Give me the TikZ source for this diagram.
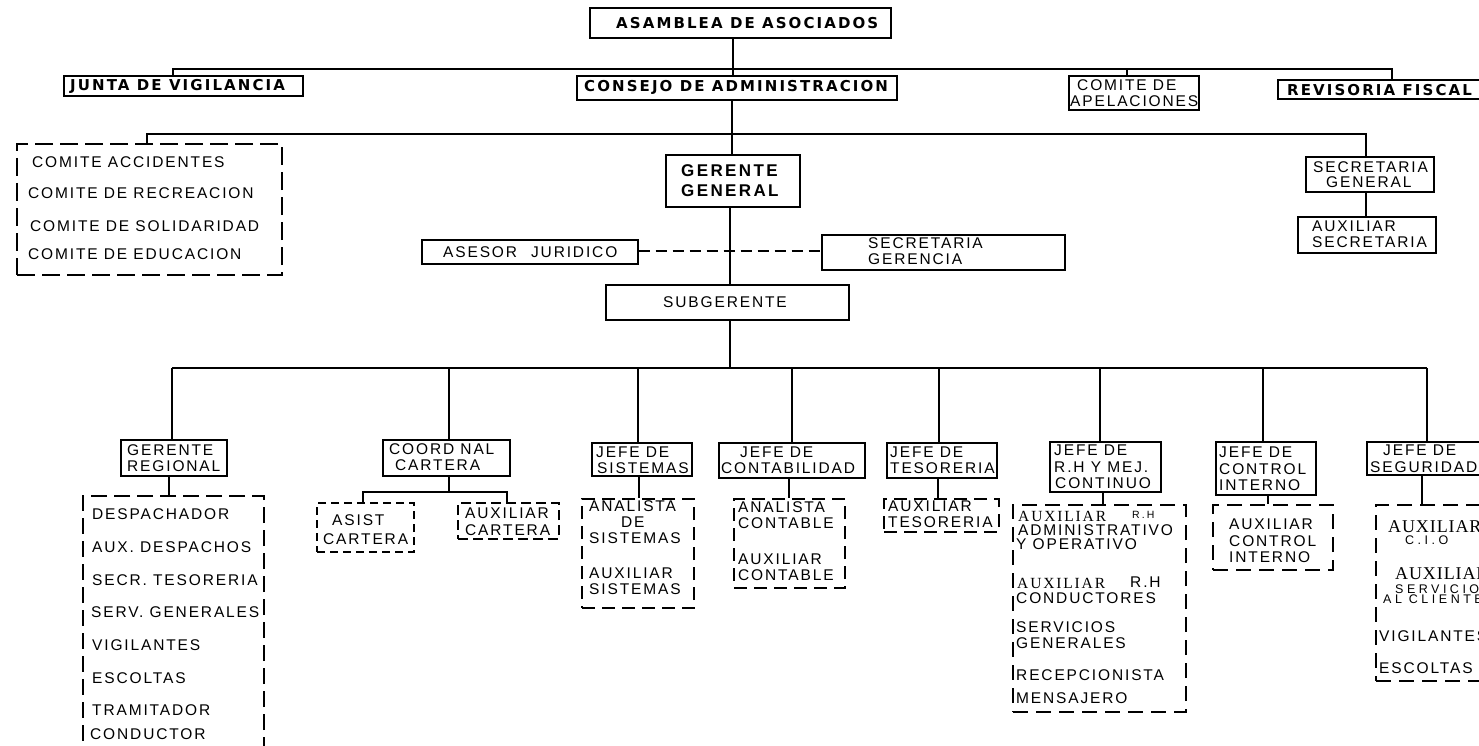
\documentclass[tikz,border=0pt]{standalone}
\usepackage{fontspec}
\usetikzlibrary{fit}
\setmainfont{Liberation Sans}
\newfontfamily\famR{Liberation Sans}[LetterSpace=12]
\newfontfamily\famB{DejaVu Sans}[LetterSpace=14]
\newfontfamily\famG{Liberation Sans}[LetterSpace=14]
\newfontfamily\famSa{Liberation Serif}[LetterSpace=12]
\newfontfamily\famSb{Liberation Serif}[LetterSpace=5]
\newfontfamily\famT{Liberation Sans}[LetterSpace=20]
\newfontfamily\famU{Liberation Sans}[LetterSpace=28]
\newcommand\myR{\famR\fontsize{15.5}{16}\selectfont}
\newcommand\myB{\famB\bfseries\fontsize{15}{16}\selectfont}
\newcommand\myG{\famG\bfseries\fontsize{17}{20}\selectfont}
\newcommand\mySa{\famSa\fontsize{15.5}{16}\selectfont}
\newcommand\mySb{\famSb\fontsize{18}{20}\selectfont}
\newcommand\myT{\famT\fontsize{10.5}{12}\selectfont}
\newcommand\myU{\famU\fontsize{12.5}{13}\selectfont}
\begin{document}
\begin{tikzpicture}[x=1pt,y=-1pt,
 bx/.style={draw, line width=1.2pt, inner sep=0pt},
 dbx/.style={bx, dash pattern=on 13pt off 7pt},
 ln/.style={line width=1.2pt},
 tt/.style={inner sep=0pt, anchor=west, font=\myR},
 tb/.style={tt, font=\myB},
 tg/.style={tt, font=\myG},
 tsa/.style={tt, font=\mySa},
 tsb/.style={tt, font=\mySb},
 tm/.style={tt, font=\myT},
 tu/.style={tt, font=\myU}]
\useasboundingbox[fill=white] (0,0) rectangle (1479,746);

% ---------- top level ----------
\node[bx, fit={(590,8)(891,38)}] (asam) {};
\node[tb] (asamT) at (616,23) {ASAMBLEA DE ASOCIADOS};
\node[bx, fit={(64,76)(303,96)}] (junta) {};
\node[tb] (juntaT) at (70,86) {JUNTA DE VIGILANCIA};
\node[bx, fit={(577,76)(897,100)}] (consejo) {};
\node[tb] (consejoT) at (584,87) {CONSEJO DE ADMINISTRACION};
\node[bx, fit={(1069,76)(1199,110)}] (apel) {};
\node[tt] (apel1) at (1077,85) {COMITE DE};
\node[tt] (apel2) at (1070,101) {APELACIONES};
\node[bx, fit={(1278,80)(1487,99)}] (revis) {};
\node[tb] (revisT) at (1287,90) {REVISORIA FISCAL};

\coordinate (b1) at (733,69);
\coordinate (jc) at ([xshift=-10.5pt]junta.north);
\coordinate (rc) at ([xshift=9.5pt]revis.north);
\coordinate (ac) at ([xshift=-7pt]apel.north);
\draw[ln] (asam.south -| b1) -- (consejo.north -| b1);
\draw[ln] (jc) |- (b1) -| (rc);
\draw[ln] (ac) -- (ac |- b1);

% ---------- second level ----------
\node[bx, fit={(666,155)(800,207)}] (gerente) {};
\node[tg] (ger1) at (681,171) {GERENTE};
\node[tg] (ger2) at (681,191) {GENERAL};
\node[dbx, dash pattern=on 18pt off 7pt, fit={(17,144)(282,275)}] (comites) {};
\node[tt] (cm1) at (32,162) {COMITE ACCIDENTES};
\node[tt] (cm2) at (28,193) {COMITE DE RECREACION};
\node[tt] (cm3) at (30,226) {COMITE DE SOLIDARIDAD};
\node[tt] (cm4) at (28,254) {COMITE DE EDUCACION};
\node[bx, fit={(1306,157)(1434,192)}] (secgen) {};
\node[tt] (sg1) at (1313,167) {SECRETARIA};
\node[tt] (sg2) at (1326,182) {GENERAL};
\node[bx, fit={(1298,217)(1436,253)}] (auxsec) {};
\node[tt] (as1) at (1312,226) {AUXILIAR};
\node[tt] (as2) at (1312,242) {SECRETARIA};

\coordinate (b2) at (732,134);
\coordinate (cmc) at ([xshift=-2.5pt]comites.north);
\coordinate (sgc) at ([xshift=-4pt]secgen.north);
\draw[ln] (consejo.south -| b2) -- (gerente.north -| b2);
\draw[ln] (cmc) |- (b2) -| (sgc);
\draw[ln] (sgc |- secgen.south) -- (sgc |- auxsec.north);

\node[bx, fit={(422,240)(638,264)}] (asesor) {};
\node[tt] (asesorT) at (443,252) {ASESOR\hspace{14pt}JURIDICO};
\node[bx, fit={(822,235)(1065,270)}] (secger) {};
\node[tt] (sr1) at (868,243) {SECRETARIA};
\node[tt] (sr2) at (868,259) {GERENCIA};
\node[bx, fit={(606,285)(849,320)}] (sub) {};
\node[tt] (subT) at (663,302) {SUBGERENTE};

\coordinate (b3) at (730,251);
\draw[ln] (gerente.south -| b3) -- (sub.north -| b3);
\draw[ln, dash pattern=on 11pt off 6pt] (asesor.east |- b3) -- (secger.west |- b3);

% ---------- third level ----------
\node[bx, fit={(121,440)(227,476)}] (gr) {};
\node[tt] (gr1) at (127,450) {GERENTE};
\node[tt] (gr2) at (127,466) {REGIONAL};
\node[bx, fit={(383,440)(510,476)}] (coord) {};
\node[tt] (co1) at (389,449) {COORD NAL};
\node[tt] (co2) at (395,465) {CARTERA};
\node[bx, fit={(592,443)(692,476)}] (jsis) {};
\node[tt] (js1) at (596,452) {JEFE DE};
\node[tt] (js2) at (597,468) {SISTEMAS};
\node[bx, fit={(719,443)(865,478)}] (jcon) {};
\node[tt] (jn1) at (740,452) {JEFE DE};
\node[tt] (jn2) at (721,468) {CONTABILIDAD};
\node[bx, fit={(887,443)(997,478)}] (jtes) {};
\node[tt] (jt1) at (890,452) {JEFE DE};
\node[tt] (jt2) at (890,468) {TESORERIA};
\node[bx, fit={(1050,442)(1161,492)}] (jrh) {};
\node[tt] (jr1) at (1054,450) {JEFE DE};
\node[tt] (jr2) at (1054,467) {R.H Y MEJ.};
\node[tt] (jr3) at (1055,483) {CONTINUO};
\node[bx, fit={(1216,442)(1316,495)}] (jci) {};
\node[tt] (ji1) at (1219,452) {JEFE DE};
\node[tt] (ji2) at (1219,469) {CONTROL};
\node[tt] (ji3) at (1219,485) {INTERNO};
\node[bx, fit={(1367,442)(1487,475)}] (jseg) {};
\node[tt] (jg1) at (1383,450) {JEFE DE};
\node[tt] (jg2) at (1370,467) {SEGURIDAD};

\coordinate (b4) at (730,368);
\coordinate (c1) at (172,368);
\coordinate (c2) at (449,368);
\coordinate (c3) at (638,368);
\coordinate (c4) at (792,368);
\coordinate (c5) at (939,368);
\coordinate (c6) at (1100,368);
\coordinate (c7) at (1263,368);
\coordinate (c8) at (1427,368);
\draw[ln] (sub.south -| b4) -- (b4);
\draw[ln] (c1) -- (c8);
\draw[ln] (c1) -- (c1 |- gr.north);
\draw[ln] (c2) -- (c2 |- coord.north);
\draw[ln] (c3) -- (c3 |- jsis.north);
\draw[ln] (c4) -- (c4 |- jcon.north);
\draw[ln] (c5) -- (c5 |- jtes.north);
\draw[ln] (c6) -- (c6 |- jrh.north);
\draw[ln] (c7) -- (c7 |- jci.north);
\draw[ln] (c8) -- (c8 |- jseg.north);

% ---------- fourth level ----------
\node[dbx, dash pattern=on 16pt off 7pt, fit={(83,496)(264,756)}] (grl) {};
\node[tt] (g1) at (92,514) {DESPACHADOR};
\node[tt] (g2) at (92,547) {AUX. DESPACHOS};
\node[tt] (g3) at (92,580) {SECR. TESORERIA};
\node[tt] (g4) at (91,612) {SERV. GENERALES};
\node[tt] (g5) at (92,645) {VIGILANTES};
\node[tt] (g6) at (92,678) {ESCOLTAS};
\node[tt] (g7) at (92,710) {TRAMITADOR};
\node[tt] (g8) at (90,734) {CONDUCTOR};

\node[dbx, dash pattern=on 8pt off 5pt, fit={(317,503)(414,552)}] (asist) {};
\node[tt] (ai1) at (332,520) {ASIST};
\node[tt] (ai2) at (323,539) {CARTERA};
\node[dbx, dash pattern=on 10pt off 5pt, fit={(458,503)(559,539)}] (auxcar) {};
\node[tt] (ak1) at (465,513) {AUXILIAR};
\node[tt] (ak2) at (465,530) {CARTERA};

\node[dbx, fit={(582,499)(694,608)}] (sisl) {};
\node[tt] (s1) at (589,506) {ANALISTA};
\node[tt] (s2) at (621,522) {DE};
\node[tt] (s3) at (589,538) {SISTEMAS};
\node[tt] (s4) at (589,573) {AUXILIAR};
\node[tt] (s5) at (589,589) {SISTEMAS};

\node[dbx, fit={(734,499)(845,588)}] (conl) {};
\node[tt] (n1) at (738,507) {ANALISTA};
\node[tt] (n2) at (738,523) {CONTABLE};
\node[tt] (n3) at (738,559) {AUXILIAR};
\node[tt] (n4) at (738,575) {CONTABLE};

\node[dbx, fit={(884,499)(999,532)}] (tesl) {};
\node[tt] (t1) at (888,506) {AUXILIAR};
\node[tt] (t2) at (888,522) {TESORERIA};

\node[dbx, dash pattern=on 15pt off 8pt, fit={(1013,505)(1186,712)}] (rhl) {};
\node[tsa] (r1) at (1018,516) {AUXILIAR};
\node[tm] (r1b) at (1132,515) {R.H};
\node[tt] (r2) at (1018,530) {ADMINISTRATIVO};
\node[tt] (r3) at (1016,544) {Y OPERATIVO};
\node[tsa] (r4) at (1017,583) {AUXILIAR};
\node[tt] (r4b) at (1130,582) {R.H};
\node[tt] (r5) at (1016,598) {CONDUCTORES};
\node[tt] (r6) at (1016,627) {SERVICIOS};
\node[tt] (r7) at (1016,643) {GENERALES};
\node[tt] (r8) at (1016,675) {RECEPCIONISTA};
\node[tt] (r9) at (1016,698) {MENSAJERO};

\node[dbx, dash pattern=on 15pt off 8pt, fit={(1213,505)(1333,570)}] (cil) {};
\node[tt] (i1) at (1229,524) {AUXILIAR};
\node[tt] (i2) at (1229,541) {CONTROL};
\node[tt] (i3) at (1229,557) {INTERNO};

\node[dbx, dash pattern=on 15pt off 8pt, fit={(1376,505)(1490,681)}] (segl) {};
\node[tsb] (e1) at (1388,527) {AUXILIAR};
\node[tu] (e2) at (1405,540) {C.I.O};
\node[tsb] (e3) at (1395,574) {AUXILIAR};
\node[tu] (e4) at (1395,589) {SERVICIO};
\node[tu] (e5) at (1383,599) {AL CLIENTE};
\node[tt] (e6) at (1379,636) {VIGILANTES};
\node[tt] (e7) at (1379,668) {ESCOLTAS};

\coordinate (k1) at (169,0);
\coordinate (k3) at (639,0);
\coordinate (k4) at (789,0);
\coordinate (k5) at (938,0);
\coordinate (k6) at (1103,0);
\coordinate (k7) at (1268,0);
\coordinate (k8) at (1422,0);
\draw[ln] (gr.south -| k1) -- (grl.north -| k1);
\draw[ln] (jsis.south -| k3) -- (sisl.north -| k3);
\draw[ln] (jcon.south -| k4) -- (conl.north -| k4);
\draw[ln] (jtes.south -| k5) -- (tesl.north -| k5);
\draw[ln] (jrh.south -| k6) -- (rhl.north -| k6);
\draw[ln] (jci.south -| k7) -- (cil.north -| k7);
\draw[ln] (jseg.south -| k8) -- (segl.north -| k8);

\coordinate (cj) at (449,492);
\coordinate (ka) at (363,0);
\coordinate (kb) at (507,0);
\draw[ln] (coord.south -| cj) -- (cj);
\draw[ln] (asist.north -| ka) |- (cj) -| (auxcar.north -| kb);
\end{tikzpicture}
\end{document}
